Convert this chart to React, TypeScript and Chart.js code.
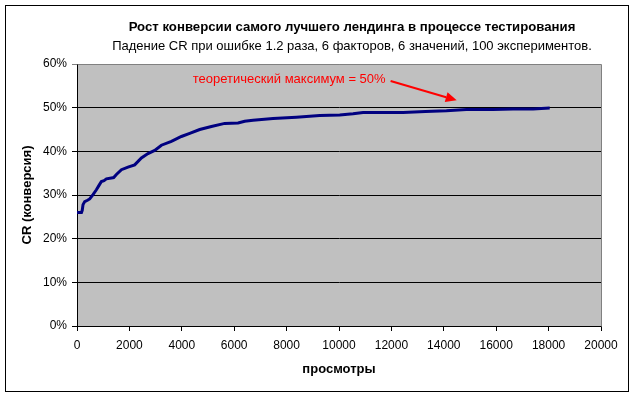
import React, { useEffect, useRef } from "react";
import { Chart, registerables } from "chart.js";

Chart.register(...registerables);

const TITLE = "Рост конверсии самого лучшего лендинга в процессе тестирования";
const SUBTITLE = "Падение CR при ошибке 1.2 раза, 6 факторов, 6 значений, 100 экспериментов.";
const X_TITLE = "просмотры";
const Y_TITLE = "CR (конверсия)";
const ANNOTATION_TEXT = "теоретический максимум = 50%";

// views (x) and conversion rate (y, fraction)
const views = [
  0, 170, 200, 230, 294, 400, 485, 611, 740, 840, 931, 1030, 1122, 1313, 1400, 1504, 1695,
  1947, 2202, 2458, 2710, 2966, 3221, 3603, 3985, 4302, 4684, 5130, 5638, 6147, 6401,
  6719, 7482, 8374, 9265, 10028, 10536, 10918, 11810, 12444, 13300, 14100, 14863, 15880,
  16643, 17406, 18043,
];
const conversion = [
  0.26, 0.26, 0.265, 0.278, 0.285, 0.288, 0.291, 0.301, 0.312, 0.322, 0.331, 0.333, 0.337,
  0.339, 0.34, 0.347, 0.358, 0.364, 0.369, 0.385, 0.395, 0.402, 0.414, 0.423, 0.434, 0.441,
  0.45, 0.457, 0.464, 0.465, 0.469, 0.471, 0.475, 0.478, 0.482, 0.483, 0.486, 0.489, 0.489,
  0.489, 0.491, 0.493, 0.496, 0.496, 0.497, 0.497, 0.499,
];

const xTicks = [0, 2000, 4000, 6000, 8000, 10000, 12000, 14000, 16000, 18000, 20000];
const yTicks = [0, 0.1, 0.2, 0.3, 0.4, 0.5, 0.6];

// annotation anchors in data units
const annotationTextAt = { x: 4420, y: 0.564 };
const arrowFrom = { x: 11970, y: 0.561 };
const arrowTo = { x: 14493, y: 0.517 };

const FONT = "'Liberation Sans', Arial, sans-serif";

const decorPlugin = {
  id: "decor",
  beforeDraw(chart: any) {
    const { ctx, chartArea: a } = chart;
    ctx.save();
    ctx.fillStyle = "#ffffff";
    ctx.fillRect(0, 0, chart.width, chart.height);
    ctx.fillStyle = "#c0c0c0";
    ctx.fillRect(a.left, a.top, a.right - a.left, a.bottom - a.top);
    ctx.restore();
  },
  afterDraw(chart: any) {
    const { ctx, chartArea: a, scales } = chart;
    ctx.save();
    // plot border top / right
    ctx.strokeStyle = "#808080";
    ctx.lineWidth = 1;
    ctx.beginPath();
    ctx.moveTo(Math.round(a.left) + 0.5, Math.round(a.top) + 0.5);
    ctx.lineTo(Math.round(a.right) + 0.5, Math.round(a.top) + 0.5);
    ctx.lineTo(Math.round(a.right) + 0.5, Math.round(a.bottom) + 0.5);
    ctx.stroke();
    // outer border
    ctx.strokeStyle = "#000000";
    ctx.strokeRect(5.5, 5.5, 623, 386);
    // titles
    ctx.fillStyle = "#000000";
    ctx.textAlign = "center";
    ctx.textBaseline = "middle";
    ctx.font = `bold 13.2px ${FONT}`;
    ctx.fillText(TITLE, 352, 27);
    ctx.font = `13px ${FONT}`;
    ctx.fillText(SUBTITLE, 352, 46);
    // annotation
    const xs = scales.x, ys = scales.y;
    ctx.fillStyle = "#ff0000";
    ctx.textAlign = "left";
    ctx.font = `13px ${FONT}`;
    ctx.fillText(ANNOTATION_TEXT, xs.getPixelForValue(annotationTextAt.x), ys.getPixelForValue(annotationTextAt.y));
    const x1 = xs.getPixelForValue(arrowFrom.x), y1 = ys.getPixelForValue(arrowFrom.y);
    const x2 = xs.getPixelForValue(arrowTo.x), y2 = ys.getPixelForValue(arrowTo.y);
    const ang = Math.atan2(y2 - y1, x2 - x1);
    const hl = 11, hw = 5;
    const bx = x2 - hl * Math.cos(ang), by = y2 - hl * Math.sin(ang);
    ctx.strokeStyle = "#ff0000";
    ctx.lineWidth = 2;
    ctx.beginPath();
    ctx.moveTo(x1, y1);
    ctx.lineTo(bx, by);
    ctx.stroke();
    ctx.beginPath();
    ctx.moveTo(x2, y2);
    ctx.lineTo(bx + hw * Math.sin(ang), by - hw * Math.cos(ang));
    ctx.lineTo(bx - hw * Math.sin(ang), by + hw * Math.cos(ang));
    ctx.closePath();
    ctx.fill();
    ctx.restore();
  },
};

export default function App() {
  const ref = useRef<HTMLCanvasElement | null>(null);
  useEffect(() => {
    if (!ref.current) return;
    const chart = new Chart(ref.current, {
      type: "scatter",
      data: {
        datasets: [
          {
            data: views.map((v, i) => ({ x: v, y: conversion[i] })),
            showLine: true,
            borderColor: "#000080",
            borderWidth: 3,
            pointRadius: 0,
            tension: 0,
          },
        ],
      },
      options: {
        responsive: false,
        animation: false,
        devicePixelRatio: 1,
        layout: { padding: { left: 0, right: 34, top: 64, bottom: 0 } },
        plugins: { legend: { display: false }, tooltip: { enabled: false }, title: { display: false } },
        scales: {
          x: {
            type: "linear",
            min: 0,
            max: 20000,
            afterBuildTicks: (s: any) => { s.ticks = xTicks.map((v) => ({ value: v })); },
            afterFit: (s: any) => { s.height = 70; },
            ticks: { color: "#000", font: { family: FONT, size: 12 }, padding: 7, maxRotation: 0, autoSkip: false, callback: (v: any) => String(v) },
            grid: { drawOnChartArea: false, drawTicks: true, tickLength: 5, color: "#000" },
            border: { color: "#000", width: 1 },
            title: { display: true, text: X_TITLE, color: "#000", font: { family: FONT, size: 13, weight: "bold" }, padding: { top: 0, bottom: 19 } },
          },
          y: {
            type: "linear",
            min: 0,
            max: 0.6,
            afterBuildTicks: (s: any) => { s.ticks = yTicks.map((v) => ({ value: v })); },
            afterFit: (s: any) => { s.width = 77; },
            ticks: { color: "#000", font: { family: FONT, size: 12 }, padding: 5, autoSkip: false, callback: (v: any) => `${Math.round(v * 100)}%` },
            grid: {
              drawTicks: true,
              tickLength: 5,
              color: (c: any) => (c.tick && Math.abs(c.tick.value - 0.6) < 1e-9 ? "#808080" : "#000"),
            },
            border: { color: "#000", width: 1 },
            title: { display: true, text: Y_TITLE, color: "#000", font: { family: FONT, size: 13, weight: "bold" }, padding: { top: 20, bottom: 0 } },
          },
        },
      },
      plugins: [decorPlugin],
    });
    return () => chart.destroy();
  }, []);
  return (
    <div style={{ position: "fixed", left: 0, top: 0, width: 635, height: 396 }}>
      <canvas ref={ref} width={635} height={396} style={{ display: "block" }} />
    </div>
  );
}
